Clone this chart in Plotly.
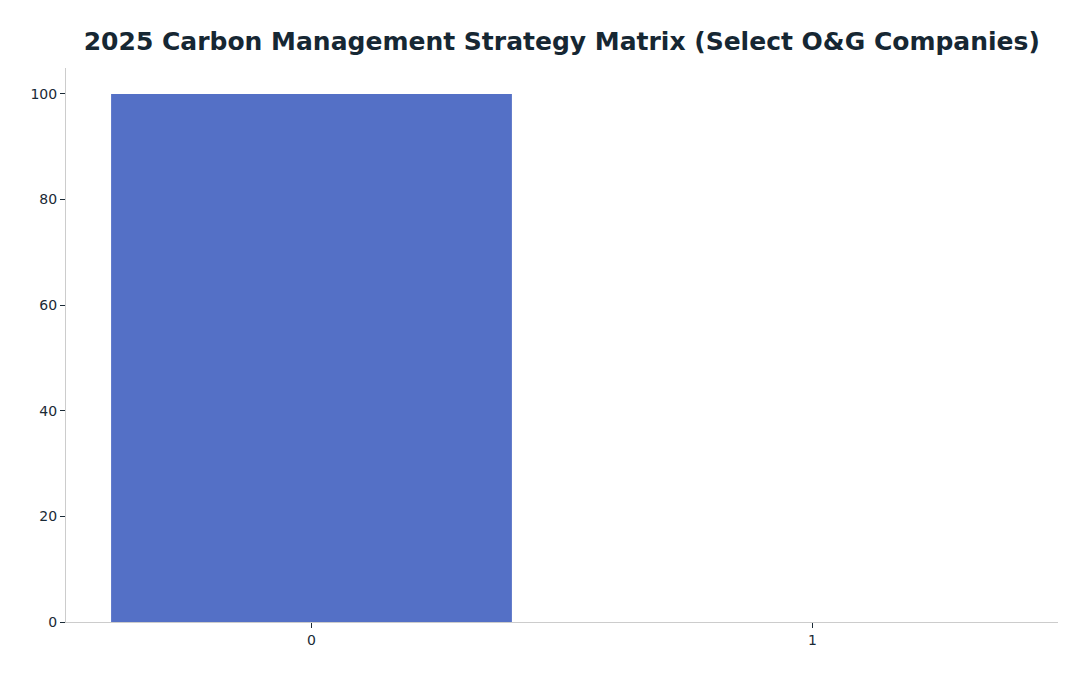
import plotly.graph_objects as go

categories = ["0", "1"]
values = [100, 0]
title_text = "2025 Carbon Management Strategy Matrix (Select O&G Companies)"

fig = go.Figure()
fig.add_trace(go.Bar(
    x=categories,
    y=values,
    marker=dict(color="#5470C6", line=dict(width=0)),
    showlegend=False,
))

fig.update_layout(
    width=1088,
    height=676,
    paper_bgcolor="white",
    plot_bgcolor="white",
    font=dict(family="DejaVu Sans", color="#1a2a36", size=14),
    title=dict(
        text="<b>" + title_text + "</b>",
        x=0.509,
        xanchor="center",
        y=0.951,
        yanchor="middle",
        font=dict(family="DejaVu Sans", size=25, color="#162733"),
    ),
    margin=dict(l=58, r=38, t=60, b=62),
    bargap=0.2,
)

fig.update_xaxes(
    type="category",
    range=[-0.49, 1.49],
    showline=True,
    linecolor="#cccccc",
    linewidth=1,
    showgrid=False,
    zeroline=False,
    ticks="outside",
    ticklen=5,
    tickcolor="#1a2a36",
    tickfont=dict(size=14, color="#1a2a36"),
)
fig.update_yaxes(
    range=[0, 104.9],
    tickvals=[0, 20, 40, 60, 80, 100],
    showline=True,
    linecolor="#cccccc",
    linewidth=1,
    showgrid=False,
    zeroline=False,
    ticks="outside",
    ticklen=5,
    tickcolor="#1a2a36",
    tickfont=dict(size=14, color="#1a2a36"),
)

fig.write_html("out.html")
